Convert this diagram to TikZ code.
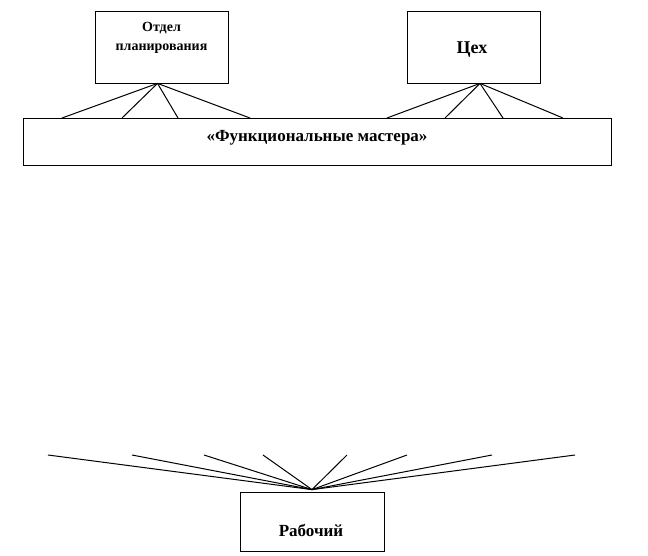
\documentclass[tikz,border=0pt]{standalone}
\usepackage{fontspec}
\setmainfont{Liberation Serif}
\usetikzlibrary{positioning,calc}

\begin{document}
\begin{tikzpicture}[x=1pt, y=-1pt,
  unit/.style={rectangle, draw=black, line width=0.8pt, fill=white, inner sep=0pt},
  lbl/.style={font=\bfseries\fontsize{14}{16}\selectfont, align=center, inner sep=0pt},
  fan/.style={black, line width=1pt}]
\useasboundingbox (0,0) rectangle (648,555);
% верхний уровень
\node[unit, minimum width=133pt, minimum height=72pt] (otd) at (161.5,47) {};
\node[lbl, below=11pt of otd.north] (otdtxt) {Отдел\\[3pt]планирования};
\node[unit, minimum width=133pt, minimum height=72pt] (ceh) at (474,47) {};
\node[lbl, font=\bfseries\fontsize{18}{21}\selectfont] (cehtxt) at (472,50) {Цех};
\node[unit, minimum width=588pt, minimum height=47pt] (fm) at (317,141.5) {};
\node[lbl, font=\bfseries\fontsize{17}{19}\selectfont] (fmtxt) at (317,138) {«Функциональные мастера»};
% рабочий
\node[unit, minimum width=144pt, minimum height=59pt] (rab) at (312,521.5) {};
\node[lbl, font=\bfseries\fontsize{17}{19}\selectfont] (rabtxt) at (311,530) {Рабочий};
% связи
\foreach \x [count=\i] in {62,122,178,250}
  \coordinate (o\i) at (\x,118);
\foreach \x [count=\i] in {387,445,503,563}
  \coordinate (c\i) at (\x,118);
\foreach \i in {1,...,4} {
  \draw[fan] ([xshift=-4pt]otd.south) -- (o\i);
  \draw[fan] ([xshift=6pt]ceh.south) -- (c\i);
}
\foreach \x [count=\i] in {48,132,204,263,347,407,492,575} {
  \coordinate (r\i) at (\x,455);
  \draw[fan] ([yshift=2pt]rab.north) -- (r\i);
}
\end{tikzpicture}
\end{document}
